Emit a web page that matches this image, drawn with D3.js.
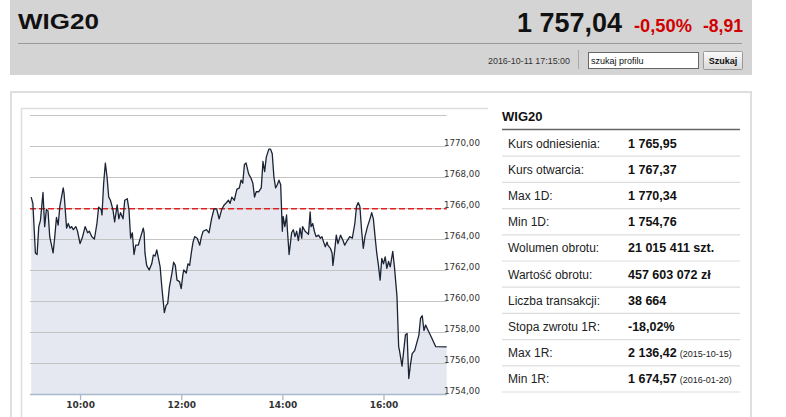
<!DOCTYPE html>
<html>
<head>
<meta charset="utf-8">
<script src="https://cdn.jsdelivr.net/npm/d3@7"></script>
<style>
  body { margin: 0; background: #fff; }
  svg { display: block; font-family: "Liberation Sans", Arial, sans-serif; }
</style>
</head>
<body>
<div id="chart"></div>
<script>
// intraday quotes
const times = [
  '09:02', '09:04', '09:07', '09:09', '09:11', '09:13', '09:16', '09:18', '09:20', '09:22',
  '09:24', '09:25', '09:28', '09:30', '09:32', '09:34', '09:36', '09:40', '09:41', '09:44',
  '09:46', '09:48', '09:50', '09:52', '09:55', '09:57', '10:00', '10:03', '10:06', '10:09',
  '10:11', '10:14', '10:17', '10:20', '10:22', '10:25', '10:26', '10:28', '10:30', '10:32',
  '10:34', '10:36', '10:39', '10:41', '10:44', '10:46', '10:48', '10:51', '10:53', '10:56',
  '10:58', '11:00', '11:02', '11:04', '11:06', '11:09', '11:12', '11:15', '11:16', '11:17',
  '11:19', '11:22', '11:25', '11:27', '11:29', '11:31', '11:33', '11:35', '11:37', '11:40',
  '11:42', '11:44', '11:46', '11:49', '11:51', '11:53', '11:55', '11:58', '12:00', '12:02',
  '12:03', '12:06', '12:08', '12:10', '12:12', '12:14', '12:16', '12:19', '12:22', '12:24',
  '12:26', '12:30', '12:33', '12:36', '12:39', '12:42', '12:45', '12:48', '12:51', '12:53',
  '12:56', '12:58', '13:00', '13:03', '13:06', '13:09', '13:11', '13:13', '13:15', '13:17',
  '13:20', '13:23', '13:25', '13:27', '13:29', '13:32', '13:35', '13:37', '13:39', '13:41',
  '13:44', '13:46', '13:48', '13:50', '13:52', '13:54', '13:56', '13:58', '14:00', '14:01',
  '14:03', '14:05', '14:06', '14:08', '14:11', '14:13', '14:15', '14:17', '14:19', '14:21',
  '14:23', '14:24', '14:27', '14:29', '14:31', '14:33', '14:34', '14:36', '14:38', '14:40',
  '14:43', '14:45', '14:47', '14:49', '14:51', '14:53', '14:54', '14:57', '14:59', '15:00',
  '15:02', '15:04', '15:06', '15:09', '15:12', '15:14', '15:17', '15:20', '15:23', '15:26',
  '15:28', '15:30', '15:32', '15:34', '15:36', '15:38', '15:41', '15:44', '15:46', '15:48',
  '15:50', '15:52', '15:54', '15:56', '15:58', '16:00', '16:02', '16:04', '16:06', '16:08',
  '16:11', '16:13', '16:16', '16:18', '16:19', '16:22', '16:24', '16:26', '16:28', '16:29',
  '16:30', '16:32', '16:34', '16:37', '16:39', '16:42', '16:44', '16:46', '16:48', '16:50',
  '16:53', '16:57', '17:02', '17:15'
]
const values = [
  1766.7, 1766.3, 1763.1, 1763.0, 1764.8, 1765.2, 1767.0, 1764.8, 1765.9, 1765.8,
  1764.15, 1763.9, 1763.1, 1764.15, 1765.4, 1764.9, 1766.1, 1767.3, 1766.95, 1764.7,
  1765.0, 1764.7, 1764.8, 1764.6, 1764.8, 1764.5, 1763.7, 1764.15, 1764.8, 1764.4,
  1764.5, 1764.15, 1764.0, 1765.0, 1766.05, 1765.9, 1765.55, 1767.6, 1768.9, 1768.0,
  1766.7, 1766.5, 1765.9, 1765.1, 1766.2, 1765.3, 1765.7, 1765.3, 1766.5, 1766.6,
  1765.9, 1764.05, 1764.4, 1763.0, 1763.6, 1763.6, 1764.15, 1764.7, 1764.4, 1763.1,
  1762.3, 1762.0, 1762.4, 1762.97, 1762.9, 1763.3, 1762.75, 1762.2, 1760.9, 1759.25,
  1759.7, 1759.85, 1760.9, 1761.8, 1762.5, 1762.3, 1761.35, 1761.25, 1760.8, 1761.7,
  1762.0, 1761.8, 1762.4, 1762.3, 1763.1, 1763.8, 1764.15, 1764.05, 1763.6, 1764.15,
  1764.5, 1764.6, 1764.4, 1765.3, 1765.95, 1765.95, 1765.3, 1765.9, 1766.2, 1766.3,
  1766.5, 1766.3, 1766.7, 1766.5, 1767.2, 1767.3, 1767.8, 1767.6, 1768.8, 1768.9,
  1768.2, 1767.9, 1767.6, 1766.7, 1767.05, 1767.05, 1767.3, 1769.0, 1768.35, 1769.3,
  1769.8, 1769.8, 1769.5, 1768.0, 1767.3, 1767.5, 1767.8, 1767.5, 1764.5, 1765.45,
  1764.8, 1765.55, 1764.6, 1763.0, 1764.4, 1764.6, 1764.15, 1764.5, 1763.9, 1764.7,
  1764.05, 1764.8, 1764.5, 1764.4, 1764.3, 1765.75, 1764.8, 1765.0, 1764.5, 1764.15,
  1764.25, 1764.05, 1764.15, 1763.8, 1763.5, 1763.8, 1763.6, 1763.4, 1763.1, 1762.3,
  1763.2, 1764.25, 1763.7, 1764.25, 1763.9, 1763.6, 1763.9, 1764.15, 1764.05, 1765.0,
  1766.1, 1766.35, 1766.1, 1764.6, 1763.4, 1764.15, 1764.8, 1765.3, 1765.7, 1765.3,
  1764.15, 1763.1, 1762.3, 1761.35, 1762.75, 1762.4, 1762.85, 1762.1, 1762.55, 1762.2,
  1763.2, 1762.2, 1760.3, 1757.05, 1756.8, 1755.8, 1756.8, 1757.8, 1757.9, 1756.4,
  1755.0, 1755.9, 1756.6, 1756.8, 1757.2, 1757.8, 1758.9, 1759.05, 1758.1, 1758.45,
  1758.1, 1757.65, 1757.05, 1757.04
]
const yTicks = [1754, 1756, 1758, 1760, 1762, 1764, 1766, 1768, 1770, 1772]
const xTicks = ['10:00', '12:00', '14:00', '16:00']
const sessionStart = '09:00'
const sessionEnd = '17:15'
const refValue = 1765.95

const statLabels = [
  'Kurs odniesienia:', 'Kurs otwarcia:', 'Max 1D:', 'Min 1D:', 'Wolumen obrotu:',
  'Wartość obrotu:', 'Liczba transakcji:', 'Stopa zwrotu 1R:', 'Max 1R:', 'Min 1R:'
]
const statValues = [
  '1 765,95', '1 767,37', '1 770,34', '1 754,76', '21 015 411 szt.',
  '457 603 072 zł', '38 664', '-18,02%', '2 136,42', '1 674,57'
]
const statDates = ['', '', '', '', '', '', '', '', '(2015-10-15)', '(2016-01-20)']

const title = 'WIG20'
const lastPrice = '1 757,04'
const changePct = '-0,50%'
const changeAbs = '-8,91'
const quoteTime = '2016-10-11 17:15:00'

const parseTime = d3.timeParse('%H:%M')
const data = times.map((t, i) => ({ t: parseTime(t), v: values[i] }))

const svg = d3
  .select('#chart')
  .append('svg')
  .attr('width', 786)
  .attr('height', 417)

// --- header bar
svg.append('rect').attr('x', 10).attr('y', 0).attr('width', 742).attr('height', 75).attr('fill', '#d4d4d4')
svg.append('line').attr('x1', 18).attr('x2', 742).attr('y1', 43.5).attr('y2', 43.5).attr('stroke', '#9a9a9a')

svg.append('text').attr('x', 18).attr('y', 29)
  .attr('font-size', 22).attr('font-weight', 'bold').attr('fill', '#111')
  .attr('textLength', 81).attr('lengthAdjust', 'spacingAndGlyphs')
  .text(title)
svg.append('text').attr('x', 517).attr('y', 32)
  .attr('font-size', 27).attr('font-weight', 'bold').attr('fill', '#111')
  .attr('textLength', 105).attr('lengthAdjust', 'spacingAndGlyphs')
  .text(lastPrice)
svg.append('text').attr('x', 634).attr('y', 32)
  .attr('font-size', 18).attr('font-weight', 'bold').attr('fill', '#d00000')
  .attr('textLength', 58).attr('lengthAdjust', 'spacingAndGlyphs')
  .text(changePct)
svg.append('text').attr('x', 703).attr('y', 32)
  .attr('font-size', 18).attr('font-weight', 'bold').attr('fill', '#d00000')
  .attr('textLength', 40).attr('lengthAdjust', 'spacingAndGlyphs')
  .text(changeAbs)

svg.append('text').attr('x', 488).attr('y', 64)
  .attr('font-size', 9).attr('fill', '#333')
  .attr('textLength', 82).attr('lengthAdjust', 'spacingAndGlyphs')
  .text(quoteTime)
svg.append('line').attr('x1', 578.5).attr('x2', 578.5).attr('y1', 50).attr('y2', 69).attr('stroke', '#aaa')

// search box + button
svg.append('rect').attr('x', 588.5).attr('y', 52.5).attr('width', 110).attr('height', 16)
  .attr('fill', '#fff').attr('stroke', '#666')
svg.append('text').attr('x', 591).attr('y', 64).attr('font-size', 9).attr('fill', '#111')
  .text('szukaj profilu')

const grad = svg.append('defs').append('linearGradient').attr('id', 'btn').attr('x1', 0).attr('x2', 0).attr('y1', 0).attr('y2', 1)
grad.append('stop').attr('offset', 0).attr('stop-color', '#fafafa')
grad.append('stop').attr('offset', 1).attr('stop-color', '#d8d8d8')
svg.append('rect').attr('x', 703.5).attr('y', 51.5).attr('width', 39).attr('height', 18)
  .attr('fill', 'url(#btn)').attr('stroke', '#999').attr('rx', 1)
svg.append('text').attr('x', 723).attr('y', 64).attr('font-size', 9).attr('font-weight', 'bold')
  .attr('text-anchor', 'middle').attr('fill', '#111').text('Szukaj')

// --- panel frames
svg.append('path').attr('d', 'M11,430 V92 H751 V430').attr('fill', 'none').attr('stroke', '#dedede').attr('stroke-width', 2)
svg.append('path').attr('d', 'M21.5,430 V108.5 H488').attr('fill', 'none').attr('stroke', '#dedede').attr('stroke-width', 1.5)

// --- chart
const x = d3
  .scaleTime()
  .domain([parseTime(sessionStart), parseTime(sessionEnd)])
  .range([29.5, 446.7])
const y = d3
  .scaleLinear()
  .domain([1754, 1772])
  .range([394, 115])

const plot = svg.append('g')

plot.append('path')
  .datum(data)
  .attr('fill', '#e5e8f0')
  .attr('d', d3.area().x(d => x(d.t)).y0(y(1754)).y1(d => y(d.v)))

// grid lines
plot.append('g')
  .selectAll('line')
  .data(yTicks.filter(d => d > 1754))
  .enter()
  .append('line')
  .attr('x1', 30)
  .attr('x2', x(parseTime(sessionEnd)))
  .attr('y1', d => Math.round(y(d)) + 0.5)
  .attr('y2', d => Math.round(y(d)) + 0.5)
  .attr('stroke', '#c4c4c4')
  .attr('stroke-width', 1.2)

// reference (kurs odniesienia)
plot.append('line')
  .attr('x1', 30)
  .attr('x2', x(parseTime(sessionEnd)))
  .attr('y1', y(refValue))
  .attr('y2', y(refValue))
  .attr('stroke', '#dd2222')
  .attr('stroke-width', 1.5)
  .attr('stroke-dasharray', '6,3')

plot.append('path')
  .datum(data)
  .attr('fill', 'none')
  .attr('stroke', '#1b2434')
  .attr('stroke-width', 1.3)
  .attr('stroke-linejoin', 'round')
  .attr('d', d3.line().x(d => x(d.t)).y(d => y(d.v)))

// y labels on the right, sitting just above their grid line
const fmt = v => d3.format('.2f')(v).replace('.', ',')
const yAxis = svg.append('g')
  .attr('transform', 'translate(443,0)')
  .call(d3.axisRight(y).tickValues(yTicks.filter(d => d < 1772)).tickSize(0).tickFormat(fmt))
yAxis.select('.domain').remove()
yAxis.selectAll('text')
  .attr('x', 1)
  .attr('dy', '-0.05em')
  .attr('font-family', '"DejaVu Sans", Verdana, sans-serif')
  .attr('font-size', 8.7)
  .attr('fill', '#333')

// x axis
const xAxis = svg.append('g')
  .attr('transform', 'translate(0,' + y(1754) + ')')
  .call(d3.axisBottom(x).tickValues(xTicks.map(parseTime)).tickSize(6).tickSizeOuter(0).tickFormat(d3.timeFormat('%H:%M')))
xAxis.select('.domain').attr('stroke', '#a9b9cc').attr('stroke-width', 1.3)
xAxis.selectAll('.tick line').attr('stroke', '#a9b9cc').attr('stroke-width', 1.3)
xAxis.selectAll('text')
  .attr('y', 8)
  .attr('font-family', '"DejaVu Sans", Verdana, sans-serif')
  .attr('font-size', 9)
  .attr('font-weight', 'bold')
  .attr('fill', '#333')

// --- stats table
svg.append('text').attr('x', 502).attr('y', 121).attr('font-size', 13).attr('font-weight', 'bold')
  .attr('fill', '#111').text(title)
svg.append('line').attr('x1', 502).attr('x2', 740).attr('y1', 129.5).attr('y2', 129.5).attr('stroke', '#666').attr('stroke-width', 1.5)

const rowH = 26.2
const rows = svg.append('g')
  .selectAll('g')
  .data(statLabels)
  .enter()
  .append('g')
  .attr('transform', (d, i) => 'translate(0,' + (130 + i * rowH) + ')')

rows.append('line').attr('x1', 502).attr('x2', 740).attr('y1', rowH).attr('y2', rowH)
  .attr('stroke', '#dddddd').attr('stroke-width', 1.2)
rows.append('text').attr('x', 508).attr('y', 17.5).attr('font-size', 12).attr('fill', '#222')
  .text(d => d)
const vt = rows.append('text').attr('x', 628).attr('y', 17.5).attr('fill', '#111')
vt.append('tspan').attr('font-size', 12.5).attr('font-weight', 'bold').text((d, i) => statValues[i])
vt.append('tspan').attr('font-size', 9).attr('dx', 3).attr('fill', '#222').text((d, i) => statDates[i])
</script>
</body>
</html>
